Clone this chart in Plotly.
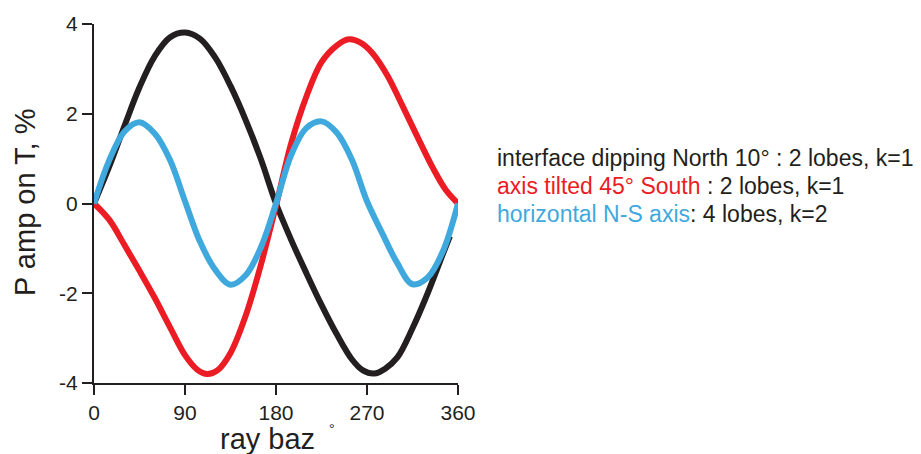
import plotly.graph_objects as go

# P-wave amplitude on the transverse component (%) versus ray back-azimuth (deg)

# interface dipping North 10 deg (curve stops short of 360)
baz_dip = [0, 15, 30, 45, 60, 75, 90, 105, 120, 135, 150, 165, 180, 195, 210, 225,
           240, 255, 266, 277, 288, 300, 315, 330, 345, 352]
amp_dip = [0.0, 0.82, 1.72, 2.59, 3.28, 3.70, 3.81, 3.67, 3.25, 2.62, 1.86, 0.99,
           0.0, -0.81, -1.55, -2.26, -2.91, -3.47, -3.72, -3.79, -3.68, -3.43,
           -2.78, -2.00, -1.13, -0.73]

# symmetry axis tilted 45 deg South
baz_tilt = [0, 15, 30, 45, 60, 75, 90, 102, 112, 122, 135, 150, 165, 180, 195, 210,
            225, 240, 252, 264, 275, 290, 305, 320, 335, 348, 360]
amp_tilt = [0.0, -0.36, -0.92, -1.50, -2.10, -2.75, -3.38, -3.70, -3.80, -3.72,
            -3.33, -2.50, -1.37, -0.05, 1.34, 2.38, 3.15, 3.52, 3.66, 3.58, 3.36,
            2.86, 2.18, 1.48, 0.80, 0.30, 0.0]

# horizontal N-S symmetry axis
baz_horiz = [0, 15, 30, 45, 60, 75, 90, 105, 120, 135, 150, 165, 180, 195, 210, 225,
             240, 255, 270, 285, 300, 315, 330, 345, 360]
amp_horiz = [0.0, 0.96, 1.60, 1.81, 1.56, 0.98, 0.05, -0.86, -1.48, -1.81, -1.60,
             -0.98, 0.0, 1.08, 1.68, 1.83, 1.58, 0.98, 0.05, -0.66, -1.33, -1.80,
             -1.65, -1.07, 0.0]

x_ticks = [0, 90, 180, 270, 360]
y_ticks = [-4, -2, 0, 2, 4]

BLACK = "#231f20"
RED = "#ec1c24"
BLUE = "#3fa9dd"
FONT = "Liberation Sans"

fig = go.Figure()
for xs, ys, col in [(baz_dip, amp_dip, BLACK),
                    (baz_tilt, amp_tilt, RED),
                    (baz_horiz, amp_horiz, BLUE)]:
    fig.add_trace(go.Scatter(x=xs, y=ys, mode="lines",
                             line=dict(color=col, width=6, shape="spline", smoothing=1.0),
                             showlegend=False, hoverinfo="skip"))

axis_common = dict(showline=True, linewidth=2, linecolor=BLACK, showgrid=False,
                   zeroline=False, ticks="outside", ticklen=10, tickwidth=2,
                   tickcolor=BLACK, tickfont=dict(family=FONT, size=21, color=BLACK))

fig.update_xaxes(range=[0, 360], tickvals=x_ticks, ticktext=[str(v) for v in x_ticks],
                 **axis_common)
fig.update_yaxes(range=[-4, 4], tickvals=y_ticks, ticktext=[str(v) for v in y_ticks],
                 **axis_common)

# text placed by pixel position on the 921x454 canvas
W, H = 921, 454
L, R, T, B = 94, 463, 20, 71
pw, ph = W - L - R, H - T - B

annotations = [
    dict(text="P amp on T, %", x=25, y=200, textangle=-90,
         font=dict(family=FONT, size=29, color=BLACK)),
    dict(text="ray baz", x=267, y=440, font=dict(family=FONT, size=29, color=BLACK)),
    dict(text="°", x=332, y=430, font=dict(family=FONT, size=14, color=BLACK)),
    dict(text="interface dipping North 10° : 2 lobes, k=1", x=495, y=155,
         xanchor="left", font=dict(family=FONT, size=23, color=BLACK)),
    dict(text=f"<span style='color:{RED}'>axis tilted 45° South</span> : 2 lobes, k=1",
         x=495, y=184, xanchor="left", font=dict(family=FONT, size=23, color=BLACK)),
    dict(text=f"<span style='color:{BLUE}'>horizontal N-S axis</span>: 4 lobes, k=2",
         x=495, y=212, xanchor="left", font=dict(family=FONT, size=23, color=BLACK)),
]
for a in annotations:
    a.setdefault("xanchor", "center")
    a["yanchor"] = "middle"
    a["x"] = (a["x"] - L) / pw
    a["y"] = 1 - (a["y"] - T) / ph
    a["xref"] = "paper"
    a["yref"] = "paper"
    a["showarrow"] = False

fig.update_layout(width=W, height=H, margin=dict(l=L, r=R, t=T, b=B),
                  paper_bgcolor="white", plot_bgcolor="white",
                  annotations=annotations)

fig.write_html("out.html")
